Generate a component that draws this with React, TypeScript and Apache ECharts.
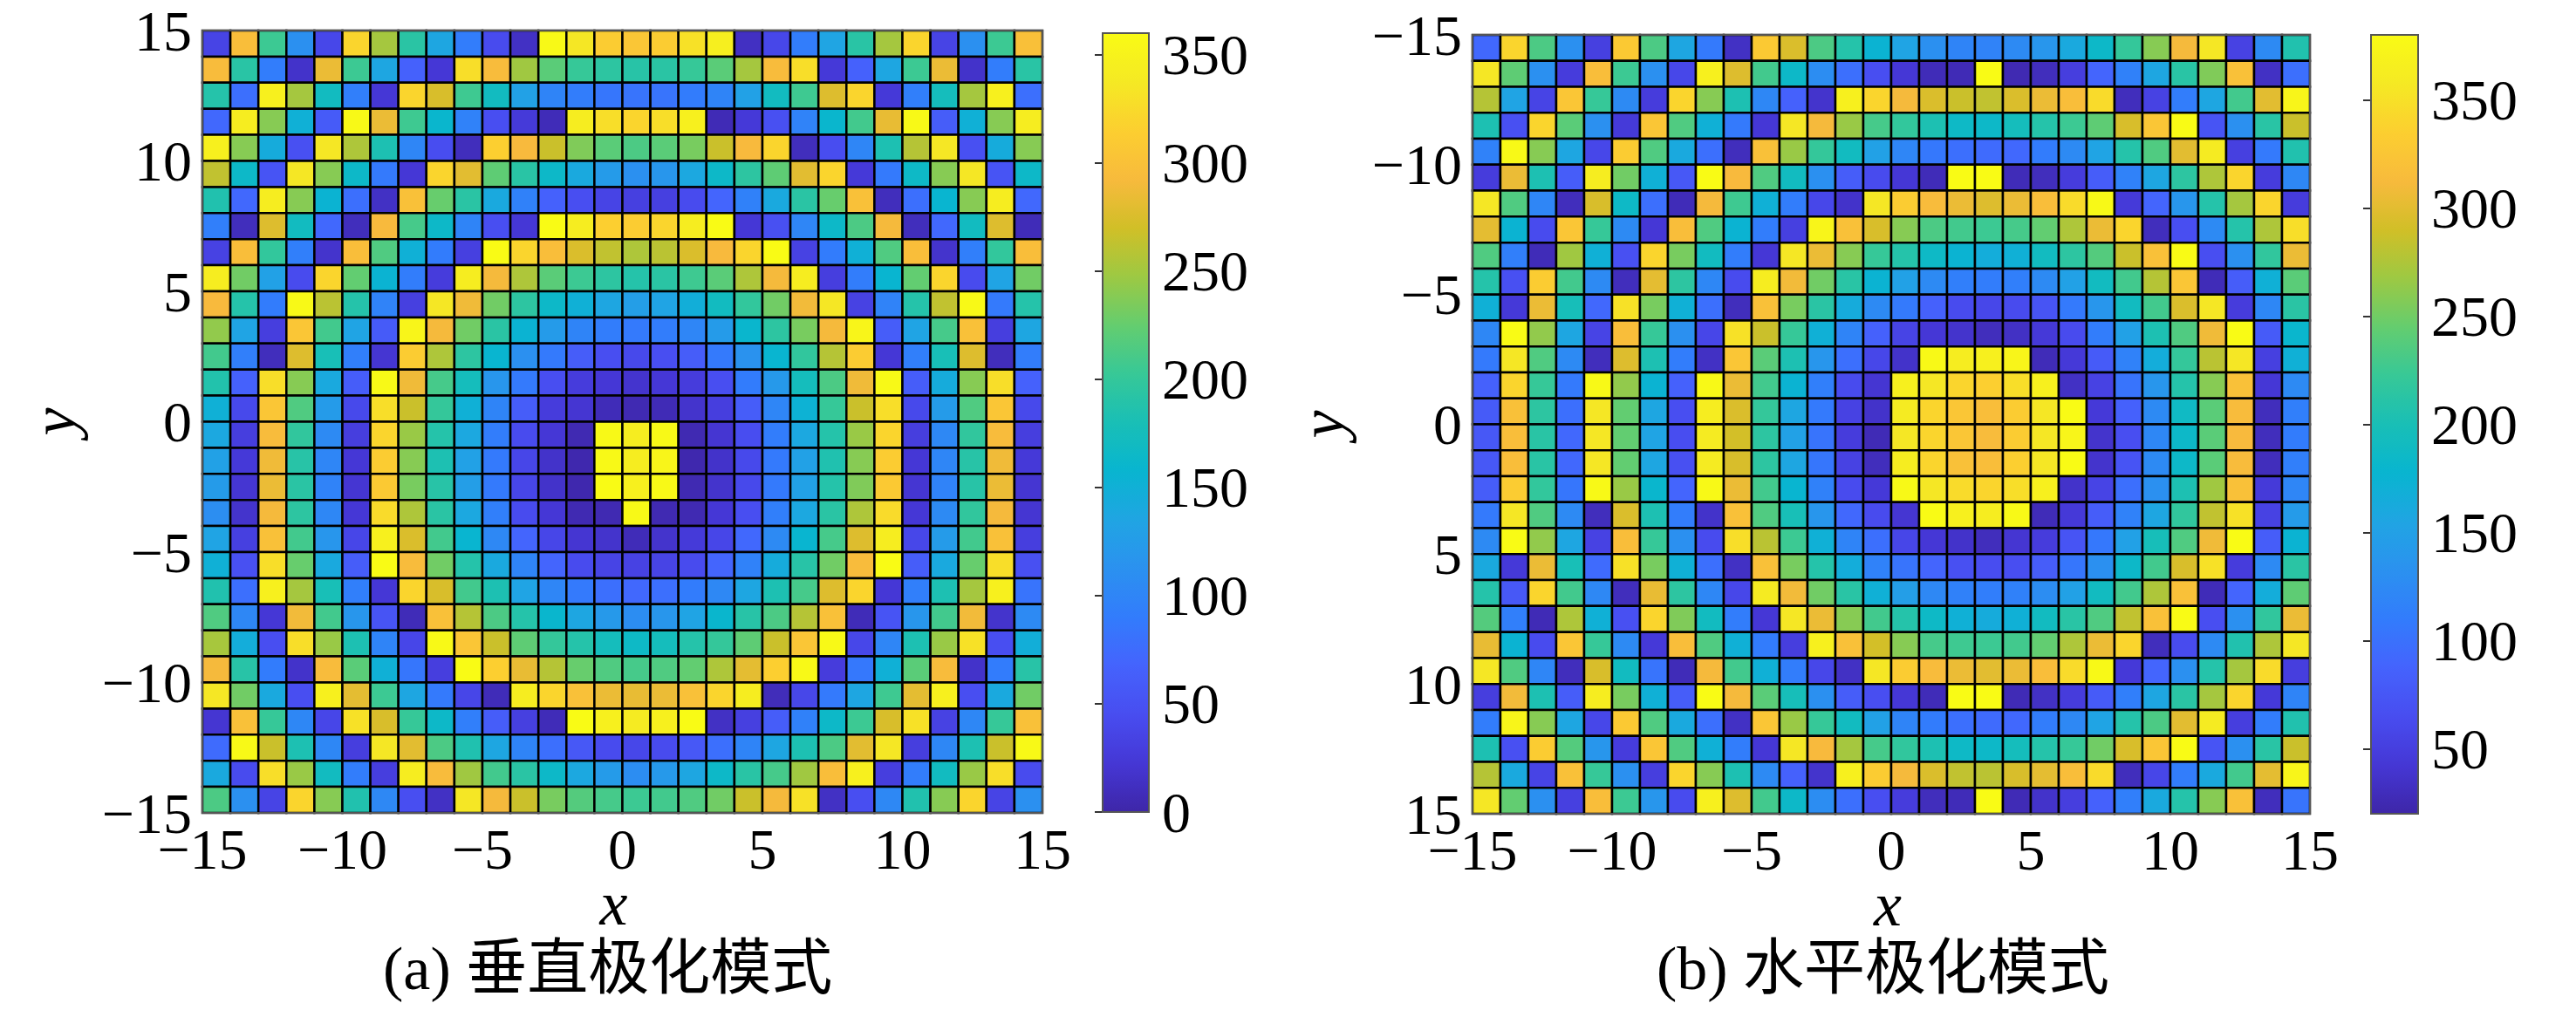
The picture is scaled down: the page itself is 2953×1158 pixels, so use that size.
import React, { useEffect, useRef } from "react";
import * as echarts from "echarts";

const verticalMode: number[][] = [
[36,297,205,111,39,320,251,193,137,91,43,14,357,336,312,305,312,331,345,13,39,91,135,192,251,320,36,111,205,299],
[295,192,91,17,285,205,137,65,23,328,295,249,220,202,195,191,193,202,220,251,295,328,25,65,137,205,285,17,91,192],
[189,78,346,251,171,93,23,320,274,206,171,130,99,91,85,83,83,90,99,130,171,206,277,320,25,93,175,251,346,78],
[72,343,239,150,59,357,285,206,160,96,46,26,8,343,328,320,328,346,7,25,48,97,160,208,283,357,61,150,239,343],
[346,239,144,48,336,255,183,101,45,10,315,293,267,236,220,213,220,233,267,293,320,10,45,101,183,258,336,48,144,239],
[263,164,52,336,239,164,88,23,320,280,222,192,164,141,124,111,118,139,164,195,222,280,320,25,88,166,239,336,52,164],
[186,72,343,239,155,78,14,300,226,193,141,95,65,46,36,32,32,43,69,95,141,193,226,300,10,78,157,239,343,72],
[93,10,277,171,72,10,293,210,164,99,46,23,360,343,315,312,320,343,360,23,48,101,164,213,291,10,72,171,277,8],
[34,297,199,93,18,297,215,150,90,32,360,320,297,275,263,255,260,275,293,320,360,34,90,150,215,297,18,93,199,297],
[343,230,130,43,320,224,155,91,28,343,291,255,220,205,195,189,193,206,220,255,291,343,30,91,157,224,320,43,134,230],
[293,189,90,357,260,189,97,32,336,288,230,195,164,150,137,127,134,148,171,199,230,289,336,34,97,189,263,357,88,189],
[243,134,30,305,208,134,59,352,291,230,193,155,124,99,91,88,91,101,124,160,195,233,291,352,61,134,210,300,30,137],
[208,93,10,277,179,93,21,312,255,195,157,111,88,61,46,41,46,61,88,114,157,198,258,312,23,93,179,277,10,91],
[187,65,328,239,141,61,357,288,210,175,118,88,46,28,23,19,23,28,46,90,122,175,213,288,357,61,144,239,328,65],
[150,41,305,215,124,41,328,267,200,150,99,61,28,21,8,5,7,18,30,61,101,153,202,267,328,41,124,215,305,41],
[139,30,295,198,105,30,320,246,189,139,91,43,23,5,357,343,357,5,21,45,91,139,189,246,320,30,103,198,295,30],
[130,25,288,191,101,23,312,239,183,130,88,38,17,3,357,343,352,3,17,41,88,130,185,239,312,23,101,191,288,25],
[124,21,285,193,97,21,309,233,191,127,88,38,17,3,360,346,357,5,18,41,88,130,189,236,309,21,97,191,285,21],
[109,18,291,195,102,23,325,255,193,139,93,43,23,5,5,357,5,5,23,46,93,139,193,255,325,23,105,198,291,21],
[134,32,300,208,118,38,346,275,208,157,103,69,38,21,18,8,18,26,38,72,105,157,210,277,343,39,124,208,300,30],
[150,48,328,226,141,61,360,295,230,189,141,99,69,43,36,34,36,43,69,96,144,191,230,295,360,61,141,226,328,48],
[186,78,346,251,179,93,23,320,274,208,183,134,101,88,78,72,78,90,103,137,183,210,277,320,23,93,183,251,346,83],
[215,102,23,289,208,118,52,8,300,258,213,189,160,137,122,108,118,134,160,191,213,258,300,8,52,118,208,289,18,105],
[252,146,46,328,246,183,99,38,357,305,267,222,200,189,175,166,175,189,200,222,267,305,357,39,101,183,246,331,46,148],
[291,191,90,17,295,220,150,85,30,360,315,283,258,226,215,210,215,224,255,281,315,357,28,86,150,220,295,17,90,191],
[336,230,141,46,346,281,205,137,88,38,8,343,320,300,285,283,285,300,320,343,9,39,88,137,206,281,346,46,141,230],
[21,300,202,102,38,331,274,202,164,93,61,32,8,360,346,340,346,360,14,32,61,95,164,205,274,331,34,102,202,300],
[75,357,267,183,102,30,336,280,213,185,137,99,78,56,43,39,43,56,78,99,137,183,213,280,336,30,102,183,267,357],
[141,43,328,246,171,91,30,343,295,249,208,193,164,139,124,108,122,137,164,192,210,249,297,346,30,91,171,246,328,43],
[213,111,36,320,239,186,103,46,14,336,291,267,233,217,210,205,208,215,230,267,291,331,14,46,103,186,239,320,36,111],
];

const horizontalMode: number[][] = [
[92,340,233,131,52,329,233,157,108,34,329,295,233,209,175,154,131,119,117,125,138,161,184,220,259,311,356,54,125,206],
[356,242,131,48,317,225,131,59,366,297,228,184,128,98,66,43,28,27,380,25,30,50,89,115,157,212,256,320,34,98],
[278,154,56,325,222,125,48,340,259,203,122,85,38,366,340,311,295,287,283,295,305,317,345,30,54,111,157,228,300,372],
[203,68,340,240,131,46,325,235,170,108,43,356,311,266,230,219,203,186,184,195,209,225,242,294,325,380,72,131,212,287],
[116,377,259,157,59,332,235,161,98,30,320,266,220,191,150,121,106,98,95,92,110,125,154,209,235,300,360,52,108,206],
[48,305,203,81,363,250,170,76,380,313,235,191,131,81,63,43,28,380,380,28,30,48,81,116,157,215,275,340,48,122],
[356,235,121,30,294,186,98,28,311,226,170,111,59,37,356,332,315,305,297,305,317,345,377,46,89,138,209,271,340,48],
[301,175,63,325,222,125,43,317,235,175,111,52,372,320,294,259,233,228,225,230,244,275,305,340,30,66,125,209,275,348],
[235,113,28,269,170,68,340,253,191,111,43,356,305,259,222,209,186,175,166,170,191,215,237,287,320,380,66,131,218,305],
[209,68,332,228,125,30,301,215,122,63,363,309,250,212,175,150,125,113,111,113,125,150,191,228,278,325,28,81,170,240],
[170,45,305,197,92,351,253,170,98,30,320,253,213,164,125,108,85,63,59,63,72,108,138,191,228,295,356,48,122,213],
[122,380,263,157,56,317,222,131,58,351,287,222,170,119,85,56,43,38,30,34,45,63,111,150,203,235,308,380,79,180],
[108,356,235,125,30,297,203,111,34,325,240,203,138,98,59,37,377,363,366,372,28,45,79,116,166,220,280,356,52,170],
[85,340,222,108,377,263,175,85,377,305,228,175,113,63,41,366,356,340,335,348,366,34,54,103,138,209,259,320,43,125],
[79,320,215,98,356,244,157,66,363,295,220,157,108,54,37,360,340,325,317,332,356,380,45,85,125,188,240,315,30,113],
[76,317,212,92,356,244,154,65,360,291,215,150,103,48,27,356,340,325,315,332,356,372,38,66,122,184,240,313,30,110],
[76,317,212,92,356,244,157,68,360,294,215,157,105,54,30,363,340,320,317,335,356,380,38,72,125,184,240,315,30,113],
[81,332,219,105,377,266,180,89,377,305,228,177,115,63,45,377,356,345,340,348,366,37,56,98,131,203,269,320,46,121],
[108,356,235,125,30,295,203,111,37,320,235,199,138,92,63,41,380,366,363,377,28,45,81,116,157,218,283,351,54,144],
[125,380,263,157,54,317,222,131,63,348,280,225,170,119,98,58,43,37,30,41,48,72,106,150,197,235,308,380,81,175],
[161,45,305,199,95,351,253,170,98,34,320,253,209,166,116,103,89,68,65,66,81,105,131,184,228,294,351,48,125,213],
[209,76,340,228,123,30,303,215,122,59,360,309,250,212,170,147,123,115,112,115,128,150,191,228,275,320,28,89,166,242],
[237,113,27,275,170,68,340,256,191,111,43,356,305,259,228,209,186,170,164,170,191,212,235,283,320,380,66,131,218,305],
[303,175,63,325,222,125,45,317,235,170,110,50,366,320,291,259,230,226,225,228,244,275,305,340,30,63,125,206,275,356],
[356,235,121,30,294,191,103,28,311,228,170,111,59,34,356,332,315,305,300,305,317,345,377,45,89,131,209,271,345,50],
[50,309,203,81,363,253,170,81,380,311,240,197,131,81,66,43,28,380,380,27,34,48,79,113,157,213,271,340,45,119],
[111,372,259,157,59,329,235,161,98,34,325,266,222,191,150,119,110,98,95,92,111,123,154,209,233,300,360,50,111,206],
[203,68,332,237,138,48,325,235,170,111,43,356,313,271,230,218,203,186,184,195,209,222,250,294,325,380,72,131,212,287],
[278,161,56,320,222,131,50,340,259,203,125,85,38,366,332,311,295,283,280,294,301,317,345,30,58,111,161,228,301,372],
[356,244,131,52,317,225,138,63,366,297,228,184,128,98,66,48,30,28,380,27,37,50,85,113,161,209,259,320,30,103],
];

const captionA = "(a) 垂直极化模式";
const captionB = "(b) 水平极化模式";
const barTicksA = [0, 50, 100, 150, 200, 250, 300, 350];
const barTicksB = [50, 100, 150, 200, 250, 300, 350];
const parula = ["#3E26A8","#4537D5","#484DF0","#4563FD","#327CFC","#2B91EF","#20A5E3","#08B5D0","#19BFB6","#37C897","#64CD6F","#9DC943","#D1BF27","#F8BA3D","#FCCF30","#F5E924","#F9FB15"];

const FONT = "'Liberation Serif', 'Noto Sans CJK SC', serif";
const LABEL = 66;

// Row 0 of each matrix is the top row of the picture.
const cellsTopUp = (m: number[][]) => m.flatMap((row, r) => row.map((v, c) => [-15 + c, 14 - r, v]));
const cellsTopDown = (m: number[][]) => m.flatMap((row, r) => row.map((v, c) => [-15 + c, -15 + r, v]));

const renderCell = (_p: any, api: any) => {
  const x = api.value(0), y = api.value(1);
  const a = api.coord([x, y]), b = api.coord([x + 1, y + 1]);
  return {
    type: "rect",
    shape: { x: Math.min(a[0], b[0]), y: Math.min(a[1], b[1]), width: Math.abs(b[0] - a[0]), height: Math.abs(b[1] - a[1]) },
    style: { fill: api.visual("color"), stroke: "#000", lineWidth: 2.5 },
  };
};

const minus = (v: number) => String(v).replace("-", "\u2212");
const frame = { show: true, z: 6, backgroundColor: "transparent", borderColor: "#555", borderWidth: 2 };
const tick = { show: true, inside: true, length: 9, lineStyle: { color: "#333", width: 2 } };
const text = { fontFamily: FONT, fontSize: LABEL, color: "#000" };

const positionAxis = (grid: number, name: string, inverse: boolean, gap: number, pad: any, margin: number) => ({
  type: "value", gridIndex: grid, min: -15, max: 15, interval: 5, inverse,
  name, nameLocation: "middle", nameGap: gap, nameMoveOverlap: false,
  nameTextStyle: { fontFamily: FONT, fontStyle: "italic", fontSize: 72, color: "#000", padding: pad },
  axisLine: { show: false }, splitLine: { show: false }, axisTick: tick,
  axisLabel: { ...text, margin, formatter: minus, showMinLabel: true, showMaxLabel: true },
});

const barAxis = (grid: number, min: number, max: number, ticks: number[]) => ({
  type: "value", gridIndex: grid, min, max, position: "right",
  axisLine: { show: false }, splitLine: { show: false },
  axisTick: { ...tick, customValues: ticks },
  axisLabel: { ...text, margin: 15, customValues: ticks, showMinLabel: true, showMaxLabel: true },
});

export default function App() {
  const ref = useRef<HTMLDivElement>(null);
  useEffect(() => {
    const chart = echarts.init(ref.current!, undefined, { renderer: "svg" });
    chart.setOption({
      animation: false,
      backgroundColor: "#fff",
      title: [
        { text: captionA, left: 439, top: 1075, padding: 0, textStyle: { fontFamily: FONT, fontSize: 70, fontWeight: "normal", color: "#000" } },
        { text: captionB, left: 1899, top: 1075, padding: 0, textStyle: { fontFamily: FONT, fontSize: 70, fontWeight: "normal", color: "#000" } },
      ],
      grid: [
        { left: 232, top: 35, width: 963, height: 897, ...frame },
        { left: 1264, top: 38, width: 53, height: 893, ...frame },
        { left: 1688, top: 40, width: 960, height: 893, ...frame },
        { left: 2718, top: 40, width: 54, height: 893, ...frame },
      ],
      xAxis: [
        positionAxis(0, "x", false, 68, [0, 20, 0, 0], 8),
        { type: "value", gridIndex: 1, show: false, min: 0, max: 1 },
        positionAxis(2, "x", false, 68, [0, 8, 0, 0], 8),
        { type: "value", gridIndex: 3, show: false, min: 0, max: 1 },
      ],
      yAxis: [
        positionAxis(0, "y", false, 134, 0, 12),
        barAxis(1, 0, 360, barTicksA),
        positionAxis(2, "y", true, 136, 0, 12),
        barAxis(3, 20, 380, barTicksB),
      ],
      visualMap: [
        { type: "continuous", seriesIndex: 0, dimension: 2, min: 0, max: 360, left: 1264, top: 38, itemWidth: 53, itemHeight: 893, padding: 0, calculable: false, hoverLink: false, text: null, inRange: { color: parula } },
        { type: "continuous", seriesIndex: 1, dimension: 2, min: 20, max: 380, left: 2718, top: 40, itemWidth: 54, itemHeight: 893, padding: 0, calculable: false, hoverLink: false, text: null, inRange: { color: parula } },
      ],
      series: [
        { type: "custom", xAxisIndex: 0, yAxisIndex: 0, data: cellsTopUp(verticalMode), encode: { x: 0, y: 1 }, renderItem: renderCell, silent: true },
        { type: "custom", xAxisIndex: 2, yAxisIndex: 2, data: cellsTopDown(horizontalMode), encode: { x: 0, y: 1 }, renderItem: renderCell, silent: true },
      ],
    });
    return () => chart.dispose();
  }, []);
  return <div ref={ref} style={{ position: "absolute", left: 0, top: 0, width: 2953, height: 1158 }} />;
}
